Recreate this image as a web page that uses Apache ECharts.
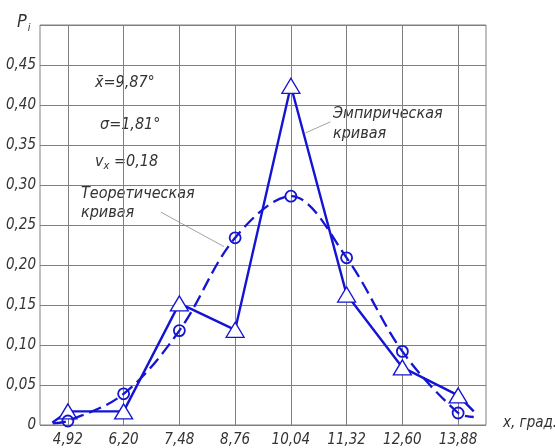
<!DOCTYPE html>
<html>
<head>
<meta charset="utf-8">
<script src="https://cdn.jsdelivr.net/npm/echarts@6/dist/echarts.min.js"></script>
<style>html,body{margin:0;padding:0;background:#fff}#c{width:555px;height:448px}</style>
</head>
<body>
<div id="c"></div>
<script>
const categories = ['4,92', '6,20', '7,48', '8,76', '10,04', '11,32', '12,60', '13,88'];
const empirical = [0.017, 0.017, 0.152, 0.119, 0.424, 0.163, 0.072, 0.037];
const theoretical = [0.005, 0.039, 0.118, 0.234, 0.286, 0.209, 0.092, 0.015];
// curve ends drawn past the first/last class (x as class index)
const empiricalTails = [[-0.28, 0.003], [7.28, 0.017]];
const theoreticalTails = [[-0.27, 0.002], [7.28, 0.010]];
// leader lines of the curve captions (x as class index, y as P)
const theoLeader = [[1.67, 0.266], [2.80, 0.223]];
const empLeader = [[4.26, 0.365], [4.71, 0.379]];

const FONT = '"DejaVu Sans Condensed", "Liberation Sans Narrow", sans-serif';
const BLUE = '#1414d2';
const TXT = '#333333';
const GRID = '#808080';

function buildData(vals, tails) {
  const d = [{ value: tails[0], symbol: 'none' }];
  vals.forEach((v, i) => d.push([i, v]));
  d.push({ value: tails[1], symbol: 'none' });
  return d;
}

const chart = echarts.init(document.getElementById('c'));
const txt = (x, y, text, size) => ({
  type: 'text', left: x, top: y,
  style: { text, font: 'italic ' + (size || 15) + 'px ' + FONT, fill: TXT }
});
chart.setOption({
  animation: false,
  grid: { left: 40, right: 69, top: 25, bottom: 23, show: true, borderColor: GRID, borderWidth: 1 },
  xAxis: [{
    type: 'category', data: categories, boundaryGap: true,
    axisLine: { show: false }, axisTick: { show: false },
    splitLine: { show: true, alignWithLabel: true, lineStyle: { color: GRID, width: 1 } },
    axisLabel: { margin: 8, color: TXT, fontStyle: 'italic', fontFamily: FONT, fontSize: 15 }
  }, {
    type: 'value', min: -0.5, max: 7.5, show: false
  }],
  yAxis: {
    type: 'value', min: 0, max: 0.5, interval: 0.05,
    axisLine: { show: false }, axisTick: { show: false },
    splitLine: { show: true, lineStyle: { color: GRID, width: 1 } },
    axisLabel: {
      margin: 4, color: TXT, fontStyle: 'italic', fontFamily: FONT, fontSize: 15,
      formatter: v => v === 0 ? '0' : (v > 0.49 ? '' : v.toFixed(2).replace('.', ','))
    }
  },
  series: [{
    name: 'Эмпирическая кривая', type: 'line', xAxisIndex: 1,
    data: buildData(empirical, empiricalTails),
    symbol: 'triangle', symbolSize: [18, 15], showAllSymbol: true,
    itemStyle: { color: '#fff', borderColor: BLUE, borderWidth: 1.3 },
    lineStyle: { color: BLUE, width: 2.4 },
    z: 3,
    markLine: {
      silent: true, symbol: 'none', label: { show: false },
      lineStyle: { color: '#8a8a8a', width: 0.8, type: 'solid' },
      data: [[{ coord: empLeader[0] }, { coord: empLeader[1] }]]
    }
  }, {
    name: 'Теоретическая кривая', type: 'line', xAxisIndex: 1,
    data: buildData(theoretical, theoreticalTails),
    smooth: 0.35,
    symbol: 'circle', symbolSize: 11, showAllSymbol: true,
    itemStyle: { color: 'rgba(0,0,0,0)', borderColor: BLUE, borderWidth: 1.8 },
    lineStyle: { color: BLUE, width: 2.3, type: [13, 6] },
    z: 4,
    markLine: {
      silent: true, symbol: 'none', label: { show: false },
      lineStyle: { color: '#8a8a8a', width: 0.8, type: 'solid' },
      data: [[{ coord: theoLeader[0] }, { coord: theoLeader[1] }]]
    }
  }],
  graphic: [
    {
      type: 'text', left: 17, top: 13,
      style: {
        text: '{a|P}{b|i}',
        rich: {
          a: { font: 'italic 18px ' + FONT, fill: TXT },
          b: { font: 'italic 11px ' + FONT, fill: TXT, padding: [12, 0, 0, 1] }
        }
      }
    },
    txt(95, 75, 'x\u0304=9,87°', 16),
    txt(100, 117, 'σ=1,81°', 16),
    {
      type: 'text', left: 95, top: 154,
      style: {
        text: '{a|v}{b|x}{a| =0,18}',
        rich: {
          a: { font: 'italic 16px ' + FONT, fill: TXT },
          b: { font: 'italic 11px ' + FONT, fill: TXT, padding: [8, 0, 0, 0] }
        }
      }
    },
    txt(81, 186, 'Теоретическая', 16),
    txt(81, 205, 'кривая', 16),
    txt(333, 106, 'Эмпирическая', 16),
    txt(333, 126, 'кривая', 16),
    txt(503, 416, 'x, град.', 15)
  ]
});
</script>
</body>
</html>
